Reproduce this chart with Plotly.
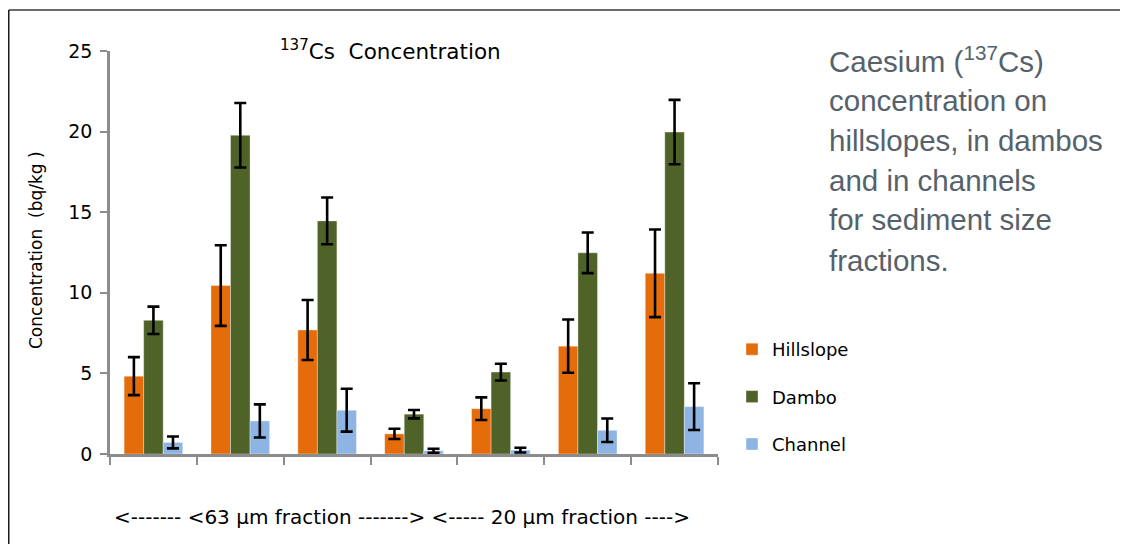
import plotly.graph_objects as go

# ---- data ----
categories = ["S1", "S2", "S3", "S4", "S5", "S6", "S7"]
hillslope = [4.83, 10.45, 7.69, 1.25, 2.81, 6.69, 11.21]
hillslope_err = [1.18, 2.5, 1.86, 0.32, 0.70, 1.65, 2.72]
dambo = [8.29, 19.77, 14.46, 2.47, 5.08, 12.48, 19.97]
dambo_err = [0.85, 2.0, 1.45, 0.26, 0.52, 1.26, 2.0]
channel = [0.72, 2.05, 2.72, 0.20, 0.24, 1.47, 2.94]
channel_err = [0.37, 1.03, 1.33, 0.13, 0.15, 0.73, 1.45]

series_names = ["Hillslope", "Dambo", "Channel"]
colors = ["#E46C0A", "#4F6228", "#8EB4E3"]

title_main = "Cs  Concentration"
y_label = "Concentration  (bq/kg )"
x_note = "<------- <63 µm fraction -------> <----- 20 µm fraction ---->"
side_lines = ["Caesium (<sup>137</sup>Cs)", "concentration on", "hillslopes, in dambos",
              "and in channels", "for sediment size", "fractions."]

# ---- layout geometry (page pixels; the page body has an 8px margin) ----
OFF = 8
PW, PH = 1128, 544
W, H = PW - OFF, PH - OFF
L, R, T, B = 110, 718, 51, 454  # plot area edges in page pixels


def px(x):
    return (x - L) / (R - L)


def py(y):
    return (B - y) / (B - T)


CHART_FONT = "DejaVu Sans, sans-serif"
SIDE_FONT = "Liberation Sans, Arial, sans-serif"

fig = go.Figure()
for name, vals, errs, col in zip(series_names, [hillslope, dambo, channel],
                                 [hillslope_err, dambo_err, channel_err], colors):
    fig.add_trace(go.Bar(
        name=name, x=categories, y=vals, legendgroup=name,
        marker=dict(color=col, line=dict(color="rgba(255,255,255,0.45)", width=0.8)),
        error_y=dict(type="data", array=errs, visible=True, color="black",
                     thickness=2.6, width=6),
    ))

fig.update_layout(
    width=W, height=H,
    margin=dict(l=L - OFF, r=PW - R, t=T - OFF, b=PH - B, pad=0),
    paper_bgcolor="white", plot_bgcolor="white",
    barmode="group", bargap=0.325, bargroupgap=0,
    font=dict(family=CHART_FONT, color="black", size=16),
    showlegend=True,
    legend=dict(x=px(732), y=py(331), xanchor="left", yanchor="top",
                font=dict(size=18, color="black"), tracegroupgap=21,
                bgcolor="rgba(0,0,0,0)", itemwidth=30),
    xaxis=dict(showticklabels=False, ticks="outside", tickson="boundaries",
               ticklen=8, tickwidth=2, tickcolor="#8C8C8C",
               showline=True, linecolor="#8C8C8C", linewidth=2.5,
               showgrid=False, zeroline=False),
    yaxis=dict(range=[0, 25], dtick=5, ticks="outside", ticklen=7, tickwidth=2,
               tickcolor="#8C8C8C", showline=True, linecolor="#8C8C8C", linewidth=2.5,
               showgrid=False, zeroline=False, tickfont=dict(size=19, color="black"),
               ticklabelstandoff=4),
)

annotations = [
    dict(x=px(390), y=py(50), xref="paper", yref="paper", showarrow=False,
         xanchor="center", yanchor="middle",
         text="<sup>137</sup>" + title_main, font=dict(size=21.5, color="black")),
    dict(x=px(36), y=py(250), xref="paper", yref="paper", showarrow=False,
         xanchor="center", yanchor="middle", textangle=-90,
         text=y_label, font=dict(size=17, color="black")),
    dict(x=px(402), y=py(517), xref="paper", yref="paper", showarrow=False,
         xanchor="center", yanchor="middle",
         text=x_note, font=dict(size=20, color="black")),
]
for i, line in enumerate(side_lines):
    annotations.append(dict(x=px(827), y=py(60 + 40 * i), xref="paper", yref="paper",
                            showarrow=False, xanchor="left", yanchor="middle",
                            text=line, font=dict(family=SIDE_FONT, size=29.5,
                                                 color="#56626B")))
fig.update_layout(annotations=annotations)

# frame lines
fig.add_shape(type="line", xref="paper", yref="paper", x0=px(OFF + 0.75), x1=px(PW + 5),
              y0=py(10), y1=py(10), line=dict(color="#3A3A3A", width=1.5))
fig.add_shape(type="line", xref="paper", yref="paper", x0=px(OFF + 0.75), x1=px(OFF + 0.75),
              y0=py(10), y1=py(PH + 5), line=dict(color="#1A1A1A", width=1.5))

fig.write_html("out.html")
